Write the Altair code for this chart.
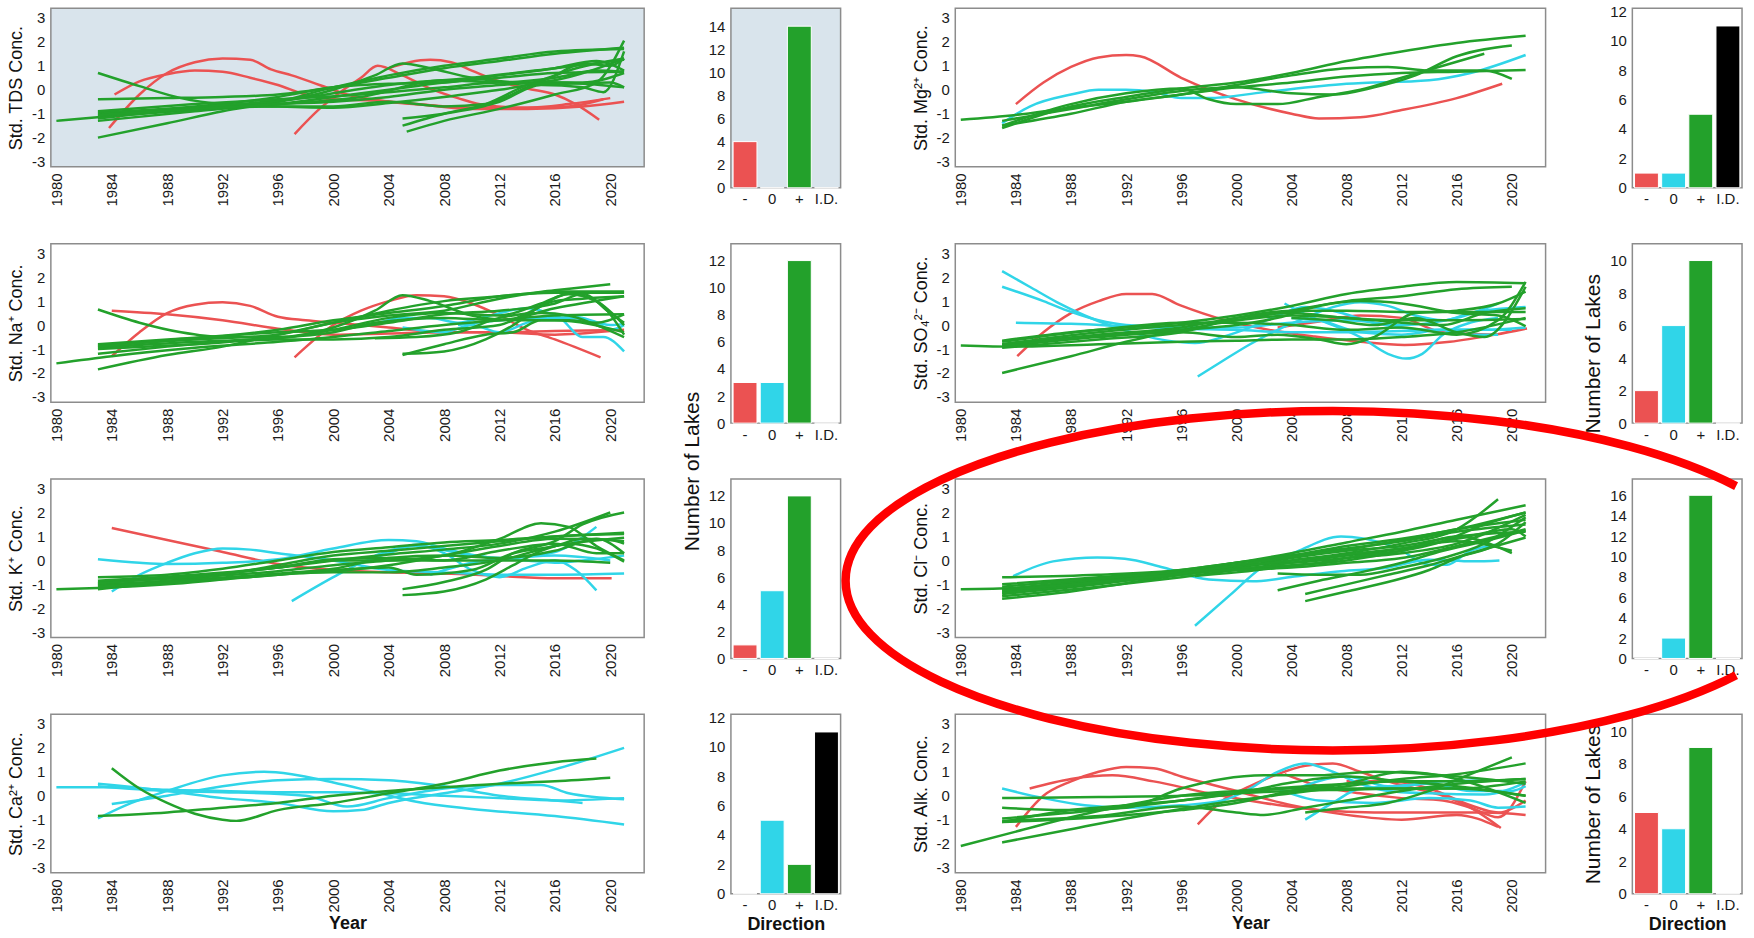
import math
import altair as alt
import pandas as pd

YEARS = list(range(1980, 2021, 4))
DIRS = ["-", "0", "+", "I.D."]
DIR_COLORS = ["#EB5252", "#30D5E8", "#23A12B", "#000000"]
X_DOM = [1979.6, 2022.45]
Y_DOM = [-3.22, 3.4]
Y_TICKS = [-3, -2, -1, 0, 1, 2, 3]

# ---------------- TDS ----------------
TDS_RED = [
    [(1983.8, -1.6), (1986, -0.2), (1988, 0.7), (1990, 1.15), (1992, 1.3), (1994, 1.25), (1995.5, 0.85), (1997, 0.6), (1999, 0.2), (2001, -0.2), (2004, -0.5), (2007, -0.65), (2010, -0.75), (2014, -0.75), (2017, -0.6), (2020, -0.35)],
    [(1984.2, -0.2), (1986, 0.35), (1988, 0.65), (1990, 0.8), (1992, 0.75), (1994, 0.5), (1996, 0.2), (1998, -0.2), (2000, -0.4), (2003, -0.45), (2006, -0.6), (2010, -0.8), (2014, -0.8), (2018, -0.7), (2021, -0.5)],
    [(1997.2, -1.85), (1999, -0.8), (2000.5, -0.1), (2002, 0.5), (2003.2, 1.0), (2005, 0.6), (2007, 0.05), (2009, -0.35), (2011, -0.65), (2014, -0.75), (2017, -0.7), (2019.5, -0.4)],
    [(2004, 0.9), (2005.5, 1.15), (2007, 1.25), (2008.5, 1.15), (2010, 0.8), (2012, 0.35), (2014, 0.05), (2016, -0.2), (2017.5, -0.6), (2019.2, -1.25)],
]
TDS_CYAN = []
TDS_GREEN = [
    [(1980, -1.3), (1984, -1.1), (1990, -0.85), (1996, -0.6), (2000, -0.3), (2004, 0.0), (2008, 0.3), (2012, 0.5), (2016, 0.7), (2021, 0.75)],
    [(1983, 0.7), (1986, 0.15), (1989, -0.35), (1992, -0.6), (1996, -0.7), (2000, -0.75), (2004, -0.55), (2008, -0.3), (2012, 0.0), (2016, 0.3), (2021, 0.1)],
    [(1983, -2.0), (1988, -1.4), (1992, -0.9), (1996, -0.5), (2000, 0.1), (2004, 0.6), (2008, 1.0), (2012, 1.3), (2016, 1.6), (2021, 1.7)],
    [(1983, -0.4), (1988, -0.35), (1992, -0.3), (1996, -0.2), (2000, 0.1), (2004, 0.5), (2008, 0.9), (2012, 1.2), (2016, 1.5), (2021, 1.75)],
    [(1983, -1.0), (1990, -0.75), (1996, -0.5), (2000, 0.0), (2003, 0.6), (2005, 1.1), (2007, 0.9), (2010, 0.5), (2014, 0.3), (2018, 0.3), (2021, 0.7)],
    [(1983, -1.3), (1990, -0.9), (1996, -0.6), (2000, -0.5), (2004, -0.3), (2008, 0.0), (2012, 0.2), (2016, 0.4), (2021, 1.3)],
    [(1983, -1.1), (1990, -0.8), (1996, -0.7), (2000, -0.7), (2004, -0.5), (2008, -0.7), (2011, -0.6), (2014, 0.1), (2017, 0.8), (2021, 1.3)],
    [(2005, -1.5), (2008, -1.0), (2011, -0.6), (2014, 0.2), (2016, 0.6), (2018, 1.1), (2020, 1.0), (2021, 1.3)],
    [(2005.3, -1.75), (2008, -1.3), (2012, -0.8), (2016, -0.2), (2019, 0.3), (2021, 2.05)],
    [(2005, -1.2), (2008, -1.0), (2012, -0.5), (2015, 0.2), (2018, 0.1), (2019.5, -0.1), (2021, 1.6)],
    [(1983, -0.95), (1990, -0.7), (1996, -0.3), (2000, 0.1), (2004, 0.25), (2008, 0.3), (2012, 0.6), (2016, 0.9), (2019, 1.2), (2021, 0.8)],
    [(1983, -1.2), (1990, -0.75), (1997, -0.4), (2004, 0.2), (2010, 0.5), (2016, 0.9), (2021, 1.25)],
    [(1983, -0.9), (1990, -0.6), (1996, -0.4), (2002, -0.2), (2008, 0.1), (2012, 0.3), (2016, 0.25), (2020, 0.3), (2021, 0.1)],
    [(1983, -1.05), (1990, -0.8), (1996, -0.6), (2002, -0.3), (2008, 0.4), (2012, 0.3), (2016, 0.5), (2019, 0.8), (2021, 0.75)],
]
TDS_COUNTS = [4, 0, 14, 0]

# ---------------- Mg ----------------
MG_RED = [
    [(1984, -0.6), (1986, 0.3), (1988, 0.95), (1990, 1.35), (1992, 1.45), (1993, 1.4), (1996, 0.5), (2000, -0.4), (2004, -1.0), (2006, -1.2), (2009, -1.15), (2012, -0.85), (2016, -0.35), (2019.3, 0.25)],
]
MG_CYAN = [
    [(1983, -1.4), (1985, -0.7), (1988, -0.2), (1990, 0.0), (1992, 0.0), (1994, -0.1), (1996, -0.35), (1998, -0.35), (2002, -0.1), (2008, 0.25), (2014, 0.4), (2017, 0.7), (2021, 1.45)],
]
MG_GREEN = [
    [(1980, -1.25), (1984, -1.05), (1988, -0.75), (1992, -0.5), (1996, -0.2), (2000, 0.1), (2004, 0.3), (2008, 0.55), (2012, 0.7), (2016, 0.75), (2021, 0.82)],
    [(1983, -1.6), (1988, -0.7), (1992, -0.3), (1996, 0.05), (2000, 0.3), (2004, 0.7), (2008, 1.2), (2012, 1.6), (2016, 1.95), (2021, 2.25)],
    [(1983, -1.5), (1988, -1.0), (1992, -0.5), (1996, -0.2), (2000, 0.2), (2004, 0.6), (2008, 0.9), (2011, 0.95), (2014, 0.8), (2018, 0.8), (2020, 0.45)],
    [(1983, -1.5), (1988, -0.6), (1992, -0.15), (1996, 0.05), (1998, -0.4), (2000, -0.6), (2003, -0.6), (2006, -0.3), (2009, 0.0), (2012, 0.5), (2015, 1.0), (2018, 1.5)],
    [(1983, -1.3), (1988, -0.8), (1992, -0.4), (1996, -0.05), (2000, 0.1), (2004, -0.15), (2007, -0.2), (2010, 0.1), (2013, 0.6), (2016, 1.4), (2020, 1.85)],
]
MG_COUNTS = [1, 1, 5, 11]

# ---------------- Na ----------------
NA_RED = [
    [(1984, 0.6), (1988, 0.45), (1992, 0.2), (1996, -0.15), (2000, -0.4), (2004, -0.35), (2008, -0.3), (2012, -0.3), (2016, -0.4), (2020, -0.25)],
    [(1984, -1.3), (1986, -0.3), (1988, 0.5), (1990, 0.85), (1992, 0.95), (1994, 0.8), (1996, 0.35), (1998, 0.2), (2000, 0.1), (2004, -0.1), (2008, -0.3), (2012, -0.3), (2016, -0.25), (2021, -0.2)],
    [(1997.2, -1.35), (2000, 0.0), (2002, 0.6), (2004, 1.0), (2006, 1.25), (2008, 1.2), (2010, 0.9), (2012, 0.4), (2014, -0.2), (2016, -0.6), (2019.3, -1.35)],
]
NA_CYAN = [
    [(2003, 0.05), (2005, 0.3), (2007, 0.3), (2009, 0.1), (2011, 0.35), (2014, 0.7), (2016, 0.45), (2018, 0.3), (2020, 0.0), (2021, 0.05)],
    [(2005, -0.1), (2008, -0.3), (2010, 0.0), (2012, -0.3), (2014, 0.1), (2016, 0.4), (2018, -0.5), (2019.5, -0.5), (2021, -1.1)],
    [(2009, 0.0), (2012, 0.2), (2015, 0.3), (2017, 0.3), (2019, 0.1), (2020, -0.2), (2021, 0.0)],
]
NA_GREEN = [
    [(1980, -1.6), (1984, -1.3), (1990, -0.95), (1996, -0.7), (2000, -0.5), (2004, -0.25), (2008, 0.0), (2012, 0.2), (2016, 0.4), (2021, 0.45)],
    [(1983, 0.65), (1986, 0.1), (1989, -0.3), (1992, -0.5), (1996, -0.5), (2000, -0.1), (2003, 0.6), (2005, 1.25), (2007, 1.0), (2010, 0.4), (2013, 0.2), (2016, 0.2), (2021, -0.3)],
    [(1983, -1.85), (1988, -1.25), (1992, -0.9), (1996, -0.4), (2000, 0.1), (2004, 0.6), (2008, 1.0), (2012, 1.2), (2016, 1.45), (2020, 1.7)],
    [(1983, -0.8), (1988, -0.6), (1992, -0.45), (1996, -0.2), (2000, 0.2), (2004, 0.5), (2008, 0.8), (2012, 1.2), (2016, 1.35), (2021, 1.35)],
    [(1983, -0.95), (1990, -0.7), (1996, -0.55), (2000, -0.2), (2004, 0.3), (2008, 0.5), (2012, 0.4), (2015, 0.9), (2017, 1.3), (2019, 1.0), (2021, 0.0)],
    [(1983, -1.0), (1990, -0.8), (1996, -0.6), (2000, -0.6), (2004, -0.5), (2008, -0.2), (2012, 0.0), (2014, 0.5), (2016, 1.0), (2018, 1.1), (2021, 1.2)],
    [(2005, -1.2), (2008, -1.1), (2011, -0.6), (2013, 0.0), (2015, 0.8), (2017, 1.3), (2019, 1.0), (2021, -0.4)],
    [(2005, -1.25), (2008, -0.8), (2011, -0.4), (2013, -0.3), (2015, 0.2), (2017, 0.2), (2019, 0.1), (2021, 0.45)],
    [(1983, -1.2), (1988, -0.9), (1994, -0.6), (2000, -0.3), (2003, 0.1), (2008, 0.3), (2012, 0.2), (2016, 0.7), (2021, 1.2)],
    [(1983, -0.85), (1990, -0.6), (1996, -0.4), (2000, 0.1), (2004, 0.4), (2008, 0.6), (2012, 1.1), (2016, 1.4), (2021, 1.4)],
    [(2003, -0.55), (2006, -0.5), (2009, -0.3), (2012, 0.3), (2015, 0.5), (2017, 0.4), (2019, 0.0), (2021, -0.5)],
    [(1983, -0.9), (1990, -0.55), (1996, -0.3), (2000, -0.2), (2004, 0.1), (2008, 0.45), (2012, 0.6), (2016, 0.9), (2018, 1.3), (2020, 0.5), (2021, 0.1)],
]
NA_COUNTS = [3, 3, 12, 0]

# ---------------- SO4 ----------------
SO4_RED = [
    [(1984.1, -1.3), (1986, -0.3), (1988, 0.5), (1990, 1.0), (1992, 1.3), (1993.9, 1.3), (1995.9, 0.83), (1999.2, 0.2), (2002.4, -0.2), (2005.7, -0.48), (2009, -0.7), (2012.2, -0.83), (2015.5, -0.7), (2018.8, -0.4), (2021.1, -0.14)],
    [(2003, -0.1), (2006, 0.15), (2009, 0.4), (2012, 0.3), (2015, -0.3), (2019, -0.4)],
]
SO4_CYAN = [
    [(1983, 2.25), (1985, 1.6), (1987, 0.95), (1989, 0.4), (1991, -0.05), (1993, -0.4), (1995, -0.65), (1997, -0.75), (1999, -0.5), (2001, -0.1), (2003, 0.4), (2005, 0.75), (2007, 0.6), (2010, 0.1), (2014, -0.2), (2018, -0.2), (2021, -0.1)],
    [(1983, 1.6), (1986, 1.0), (1988, 0.55), (1990, 0.2), (1992, 0.0), (1996, -0.1), (2000, -0.1), (2004, 0.1), (2008, 0.2), (2012, 0.0), (2016, 0.3), (2019, 0.9)],
    [(1984, 0.1), (1988, 0.05), (1992, -0.05), (1996, -0.15), (2000, -0.2), (2004, -0.3), (2008, -0.3), (2012, -0.25), (2016, -0.2), (2020, -0.2)],
    [(1997.2, -2.15), (1999, -1.5), (2001, -0.8), (2003, -0.2), (2005, 0.3), (2007, 0.75), (2009, 0.95), (2011, 0.8), (2013, 0.4), (2015, 0.2), (2017, 0.5), (2021, 0.75)],
    [(2003.5, 0.9), (2005, 0.45), (2007, 0.0), (2009, -0.5), (2011, -1.2), (2012.3, -1.4), (2013.5, -1.2), (2015, -0.4), (2017, 0.1), (2019, 0.3)],
    [(2004, 0.3), (2006, 0.2), (2009, -0.3), (2012, -0.4), (2015, -0.2), (2017, -0.4), (2019, -0.4)],
]
SO4_GREEN = [
    [(1980, -0.85), (1984, -0.9), (1990, -0.8), (1996, -0.7), (2000, -0.65), (2004, -0.6), (2008, -0.6), (2012, -0.5), (2016, -0.3), (2021, 0.3)],
    [(1983, -2.0), (1988, -1.3), (1992, -0.7), (1996, -0.2), (2000, 0.2), (2004, 0.6), (2008, 1.0), (2012, 1.2), (2016, 1.5), (2020, 1.6)],
    [(1983, -0.65), (1988, -0.3), (1992, -0.1), (1996, 0.1), (2000, 0.4), (2004, 0.8), (2008, 1.3), (2012, 1.6), (2016, 1.8), (2021, 1.75)],
    [(1983, -0.95), (1990, -0.6), (1996, -0.3), (2000, 0.3), (2004, 0.6), (2008, 0.6), (2012, 0.55), (2016, 0.55), (2021, 0.55)],
    [(1983, -0.8), (1990, -0.4), (1996, -0.1), (2000, 0.3), (2004, 0.5), (2008, 0.3), (2012, 0.2), (2016, 0.2), (2021, 0.25)],
    [(1983, -0.7), (1990, -0.2), (1996, 0.1), (2000, 0.1), (2004, 0.0), (2008, -0.2), (2012, -0.1), (2016, -0.4), (2019, 0.2), (2021, 1.8)],
    [(1983, -0.9), (1990, -0.5), (1996, -0.3), (2000, -0.5), (2003, -0.4), (2006, -0.6), (2008, -0.8), (2010, -0.5), (2013, 0.5), (2016, 0.6), (2019, 0.9), (2021, 1.4)],
    [(1983, -0.85), (1990, -0.45), (1996, -0.2), (2000, 0.0), (2003, 0.3), (2006, 0.8), (2009, 1.0), (2012, 0.9), (2016, 0.5), (2019, 0.4), (2021, -0.05)],
    [(2004, 0.3), (2007, 0.2), (2010, 0.0), (2013, 0.3), (2016, -0.3), (2018, -0.5), (2021, 1.6)],
    [(1983, -0.8), (1990, -0.3), (1996, 0.0), (2000, 0.2), (2004, 0.4), (2008, 0.3), (2012, 0.1), (2015, 0.0), (2018, 0.5), (2021, 0.7)],
]
SO4_COUNTS = [2, 6, 10, 0]

# ---------------- K ----------------
K_RED = [
    [(1984, 1.35), (1988, 0.85), (1992, 0.35), (1996, -0.15), (2000, -0.4), (2004, -0.5), (2008, -0.55), (2012, -0.65), (2016, -0.75), (2020.1, -0.75)],
]
K_CYAN = [
    [(1983, 0.05), (1986, -0.1), (1988, -0.15), (1992, -0.1), (1996, 0.05), (2000, 0.5), (2004, 0.85), (2006, 0.8), (2008, 0.5), (2012, 0.1), (2016, 0.2), (2020, 0.0)],
    [(1984, -1.3), (1986, -0.6), (1988, -0.1), (1990, 0.3), (1992, 0.5), (1994, 0.45), (1996, 0.3), (2000, 0.0), (2004, -0.4), (2008, -0.5), (2012, -0.6), (2016, -0.6), (2021, -0.55)],
    [(1997, -1.7), (2000, -0.7), (2002, -0.1), (2004, 0.3), (2006, 0.65), (2008, 0.3), (2010, -0.4), (2012, -0.7), (2014, -0.3), (2016, 0.0), (2017.5, -0.4), (2019, -1.25)],
    [(2007, -0.6), (2010, -0.1), (2013, 0.1), (2016, 0.35), (2019, 1.4)],
    [(2003, 0.2), (2006, 0.6), (2010, 0.2), (2014, 0.0), (2016, -0.1), (2018, 0.0), (2021, 0.2)],
]
K_GREEN = [
    [(1980, -1.2), (1983, -1.15), (1988, -1.0), (1992, -0.8), (1996, -0.6), (2000, -0.5), (2004, -0.5), (2008, -0.3), (2012, 0.0), (2016, 0.6), (2021, 0.95)],
    [(1983, -0.7), (1988, -0.6), (1992, -0.35), (1996, 0.0), (2000, 0.35), (2004, 0.55), (2008, 0.75), (2012, 0.85), (2016, 1.0), (2021, 1.15)],
    [(1983, -1.2), (1988, -0.9), (1992, -0.6), (1996, -0.2), (2000, 0.2), (2004, 0.4), (2008, 0.6), (2012, 0.8), (2016, 1.0), (2021, 1.1)],
    [(1983, -1.0), (1988, -0.85), (1992, -0.55), (1996, -0.3), (2000, 0.0), (2004, 0.25), (2008, 0.45), (2012, 0.7), (2016, 1.2), (2020, 2.0)],
    [(1983, -0.9), (1990, -0.7), (1996, -0.45), (2000, -0.2), (2004, 0.0), (2008, 0.2), (2012, 0.9), (2015, 1.55), (2017, 1.4), (2019, 0.6), (2021, 0.0)],
    [(2005, -1.2), (2008, -0.9), (2011, -0.4), (2013, 0.3), (2016, 0.8), (2018, 1.5), (2021, 2.0)],
    [(2005, -1.45), (2008, -1.3), (2011, -0.8), (2013, -0.2), (2015, 0.4), (2017, 0.7), (2019, 0.5), (2021, -0.05)],
    [(1983, -1.05), (1990, -0.8), (1996, -0.55), (2000, -0.4), (2004, -0.3), (2006, -0.6), (2010, -0.4), (2013, 0.3), (2016, 0.6), (2018, 0.9), (2021, 0.8)],
    [(1983, -0.95), (1990, -0.65), (1996, -0.3), (2000, 0.05), (2004, 0.1), (2008, 0.0), (2012, 0.4), (2016, 0.7), (2019, 0.3), (2021, 0.3)],
    [(1997, -0.5), (2000, -0.45), (2004, -0.2), (2008, 0.2), (2012, 0.6), (2016, 0.9), (2020, 0.85), (2021, 0.7)],
    [(1983, -1.1), (1990, -0.85), (1996, -0.6), (2000, -0.35), (2004, 0.1), (2008, 0.2), (2012, 0.1), (2016, 0.4), (2019, 0.9), (2021, 0.3)],
    [(1983, -0.85), (1990, -0.6), (1996, -0.3), (2000, 0.0), (2004, 0.0), (2008, 0.0), (2012, 0.0), (2016, 0.0), (2020, -0.1)],
]
K_COUNTS = [1, 5, 12, 0]

# ---------------- Cl ----------------
CL_RED = []
CL_CYAN = [
    [(1983.8, -0.66), (1986.7, -0.04), (1989.9, 0.12), (1991.9, 0.07), (1994.7, -0.3), (1998, -0.8), (2001.2, -0.87), (2004.4, -0.66), (2007.6, -0.45), (2010.8, -0.32), (2014, 0.03), (2017.2, -0.04), (2019.1, 0.0)],
    [(1997, -2.73), (1999.6, -1.42), (2001.8, -0.32), (2004.4, 0.37), (2007.6, 1.0), (2009.2, 0.92), (2011.7, 0.5), (2014, -0.18), (2015.3, -0.18), (2016.9, 0.37), (2018.8, 0.65)],
]
CL_GREEN = [
    [(1980, -1.2), (1984, -1.15), (1990, -0.85), (1996, -0.45), (2000, -0.1), (2004, 0.3), (2008, 0.75), (2012, 1.2), (2016, 1.7), (2021, 2.3)],
    [(1983, -0.7), (1990, -0.6), (1996, -0.4), (2000, -0.1), (2004, 0.2), (2008, 0.6), (2012, 0.9), (2016, 1.3), (2021, 2.0)],
    [(1983, -1.6), (1988, -1.3), (1992, -0.95), (1996, -0.6), (2000, -0.3), (2004, 0.0), (2008, 0.3), (2012, 0.7), (2016, 1.3), (2019, 2.55)],
    [(1983, -1.4), (1990, -1.0), (1996, -0.55), (2000, -0.3), (2004, 0.1), (2008, 0.4), (2012, 0.6), (2016, 1.0), (2021, 1.2)],
    [(1983, -1.2), (1990, -0.8), (1996, -0.4), (2000, -0.1), (2004, 0.2), (2008, 0.5), (2012, 0.8), (2016, 1.2), (2021, 1.5)],
    [(1983, -1.3), (1990, -0.9), (1996, -0.5), (2000, -0.2), (2004, -0.1), (2008, 0.1), (2012, 0.3), (2016, 0.7), (2021, 1.9)],
    [(1983, -1.5), (1990, -1.1), (1996, -0.7), (2000, -0.4), (2004, -0.1), (2008, 0.2), (2012, 0.5), (2016, 0.9), (2020, 1.3), (2021, 1.0)],
    [(1983, -1.0), (1990, -0.7), (1996, -0.45), (2000, -0.25), (2004, 0.0), (2008, 0.25), (2012, 0.5), (2016, 0.8), (2020, 0.4)],
    [(2003, -1.25), (2006, -0.85), (2009, -0.5), (2012, -0.1), (2015, 0.4), (2018, 0.8), (2021, 1.25)],
    [(2005, -1.4), (2008, -1.0), (2011, -0.6), (2014, -0.2), (2017, 0.3), (2021, 0.95)],
    [(2005, -1.7), (2008, -1.3), (2011, -0.9), (2014, -0.4), (2016, 0.1), (2019, 0.7), (2021, 1.6)],
    [(1983, -1.35), (1990, -0.95), (1996, -0.6), (2000, -0.35), (2004, -0.2), (2008, 0.0), (2012, 0.4), (2016, 1.0), (2020, 0.3)],
    [(1997, -0.65), (2000, -0.5), (2003, -0.3), (2006, -0.1), (2009, 0.2), (2012, 0.4), (2015, 0.8), (2018, 1.5), (2021, 2.0)],
    [(1983, -1.1), (1990, -0.75), (1996, -0.5), (2000, -0.4), (2004, -0.3), (2008, -0.1), (2012, 0.1), (2016, 0.6), (2021, 1.3)],
    [(2003, -0.55), (2006, -0.6), (2009, -0.6), (2012, -0.3), (2015, 0.1), (2018, 0.7), (2021, 1.8)],
    [(1983, -1.25), (1990, -0.9), (1996, -0.55), (2000, -0.2), (2004, 0.15), (2008, 0.45), (2012, 0.85), (2016, 1.3), (2021, 1.7)],
]
CL_COUNTS = [0, 2, 16, 0]

# ---------------- Ca ----------------
CA_RED = []
CA_CYAN = [
    [(1980, 0.35), (1984, 0.35), (1988, 0.25), (1992, 0.2), (1996, 0.15), (2000, 0.15), (2004, 0.1), (2008, 0.0), (2012, -0.1), (2016, -0.2), (2021, -0.1)],
    [(1983, 0.5), (1988, 0.2), (1992, -0.1), (1996, -0.3), (2000, -0.65), (2002, -0.6), (2004, -0.3), (2008, 0.1), (2012, 0.5), (2016, 1.1), (2021, 2.0)],
    [(1983, -0.95), (1985, -0.4), (1988, 0.2), (1992, 0.85), (1995, 1.0), (1997, 0.9), (2000, 0.55), (2003, 0.15), (2006, -0.25), (2010, -0.55), (2016, -0.85), (2021, -1.2)],
    [(1984, -0.35), (1988, 0.0), (1992, 0.4), (1996, 0.65), (2000, 0.7), (2004, 0.65), (2008, 0.4), (2012, 0.0), (2016, -0.2), (2018, -0.3)],
    [(1983, 0.4), (1988, 0.2), (1992, 0.15), (1998, 0.0), (2001, -0.45), (2004, -0.1), (2008, 0.3), (2012, 0.45), (2015, 0.45), (2017, 0.1), (2021, -0.15)],
]
CA_GREEN = [
    [(1983, -0.85), (1988, -0.7), (1992, -0.5), (1996, -0.3), (2000, 0.0), (2004, 0.2), (2008, 0.35), (2012, 0.5), (2016, 0.6), (2020, 0.75)],
    [(1984, 1.15), (1986, 0.3), (1988, -0.3), (1990, -0.75), (1992, -1.0), (1993, -1.05), (1996, -0.6), (2000, -0.3), (2004, 0.1), (2008, 0.5), (2012, 1.05), (2016, 1.4), (2019, 1.55)],
]
CA_COUNTS = [0, 5, 2, 11]

# ---------------- Alk ----------------
ALK_RED = [
    [(1984, -1.3), (1986, 0.0), (1988, 0.6), (1990, 1.0), (1992, 1.2), (1994, 1.15), (1996, 0.8), (2000, 0.2), (2004, -0.4), (2008, -0.8), (2012, -1.0), (2016, -0.8), (2019, -1.3)],
    [(1985, 0.3), (1988, 0.7), (1991, 0.85), (1994, 0.6), (1998, 0.1), (2002, -0.3), (2006, -0.6), (2010, -0.7), (2014, -0.7), (2018, -0.7), (2021, -0.8)],
    [(1997.2, -1.2), (1999, -0.2), (2001, 0.4), (2003, 0.9), (2005, 1.25), (2007, 1.35), (2009, 1.0), (2011, 0.6), (2013, 0.3), (2015, 0.0), (2017, -0.5), (2019.2, -1.35)],
    [(2003.5, 0.9), (2006, 0.4), (2009, 0.1), (2012, -0.1), (2015, -0.2), (2017, -0.5), (2019, -0.9), (2021, 0.6)],
    [(2008, 0.6), (2011, 0.6), (2014, 0.3), (2017, -0.4), (2019, -0.7), (2021, -0.2)],
]
ALK_CYAN = [
    [(1983, 0.3), (1986, -0.1), (1989, -0.4), (1992, -0.5), (1996, -0.4), (1999, -0.2), (2001, 0.3), (2003, 1.0), (2005, 1.35), (2007, 1.0), (2009, 0.5), (2011, 0.2), (2014, 0.1), (2018, 0.05), (2021, 0.55)],
    [(2005, -1.0), (2007, -0.3), (2009, 0.3), (2012, 0.4), (2015, 0.6), (2019, 0.65)],
    [(2003, 0.3), (2006, -0.2), (2010, -0.3), (2014, -0.1), (2017, -0.2), (2019, -0.5), (2021, -0.45)],
    [(2004, 0.2), (2008, 0.8), (2011, 0.4), (2014, 0.5), (2017, 0.2), (2020, 0.2), (2021, 0.4)],
]
ALK_GREEN = [
    [(1980, -2.1), (1984, -1.5), (1988, -0.9), (1992, -0.4), (1996, 0.0), (2000, 0.2), (2004, 0.35), (2008, 0.5), (2012, 0.6), (2016, 0.6), (2021, 0.7)],
    [(1983, -1.95), (1988, -1.4), (1992, -0.95), (1996, -0.55), (2000, -0.2), (2004, 0.1), (2008, 0.4), (2012, 0.7), (2016, 0.9), (2021, 1.35)],
    [(1983, -0.1), (1990, -0.05), (1996, 0.0), (2000, 0.1), (2004, 0.2), (2008, 0.25), (2012, 0.3), (2016, 0.3), (2021, 0.0)],
    [(1983, -0.5), (1988, -0.6), (1992, -0.5), (1996, 0.3), (1999, 0.7), (2002, 0.85), (2006, 0.85), (2010, 1.0), (2014, 0.9), (2018, 0.7), (2021, 0.5)],
    [(1983, -1.05), (1990, -0.85), (1996, -0.45), (2000, -0.7), (2002, -0.8), (2005, -0.5), (2008, -0.2), (2012, 0.2), (2016, 0.5), (2021, 0.7)],
    [(1983, -1.1), (1988, -0.6), (1992, -0.4), (1996, -0.2), (2000, 0.1), (2004, 0.55), (2008, 0.8), (2012, 0.6), (2016, 0.4), (2021, 0.0)],
    [(2005, -0.7), (2008, -0.5), (2011, -0.3), (2014, 0.2), (2017, 0.9), (2020, 1.6)],
    [(1983, -1.1), (1990, -0.9), (1996, -0.6), (2000, -0.3), (2004, 0.2), (2008, 0.5), (2012, 1.0), (2016, 0.7), (2021, -0.3)],
    [(1983, -0.95), (1990, -0.6), (1996, -0.2), (2000, 0.1), (2004, 0.3), (2008, 0.3), (2012, 0.3), (2016, 0.3), (2021, 0.6)],
]
ALK_COUNTS = [5, 4, 9, 0]

# ---------------- layout constants ----------------
LINE_W1, LINE_W2, LINE_H = 595, 592, 159
BAR_W, BAR_H = 110, 180
BAR1_EXTRA = 28
TDS_BG = "#D9E4EC"
FRAME = "#8C8C8C"
FONT = "Liberation Sans"

# red annotation ellipse, drawn as an open arc cut at the right page edge
# (positions relative to the Alk bar panel's top-left corner)
ELL_RX, ELL_RY = 488, 170
ELL_CX, ELL_CY = -301, -134
ELL_CUT = 0.83          # fraction of rx where the arc leaves the page on the right


def ellipse_arc_path(cut, b, nseg=4):
    t0 = math.acos(cut)
    t1 = 2 * math.pi - t0
    phi = (t1 - t0) / nseg
    k = 4.0 / 3.0 * math.tan(phi / 4.0)

    def pt(t):
        return math.cos(t), -b * math.sin(t)

    def d(t):
        return -math.sin(t), -b * math.cos(t)

    x0, y0 = pt(t0)
    parts = [f"M {x0:.4f} {y0:.4f}"]
    for i in range(nseg):
        ta, tb = t0 + i * phi, t0 + (i + 1) * phi
        pa, pb = pt(ta), pt(tb)
        da, db = d(ta), d(tb)
        c1 = (pa[0] + k * da[0], pa[1] + k * da[1])
        c2 = (pb[0] - k * db[0], pb[1] - k * db[1])
        parts.append(f"C {c1[0]:.4f} {c1[1]:.4f} {c2[0]:.4f} {c2[1]:.4f} {pb[0]:.4f} {pb[1]:.4f}")
    return " ".join(parts)


ELLIPSE_PATH = ellipse_arc_path(ELL_CUT, ELL_RY / ELL_RX)


def line_df(red, cyan, green):
    rows = []
    for d, group in (("-", red), ("0", cyan), ("+", green)):
        for i, pts in enumerate(group):
            for yr, v in pts:
                rows.append({"lake": f"{d}{i}", "dir": d, "year": yr, "value": v})
    return pd.DataFrame(rows)


COLOR = alt.Color("dir:N", scale=alt.Scale(domain=DIRS, range=DIR_COLORS), legend=None)


def line_panel(red, cyan, green, ytitle, width, bottom=False, bg=None):
    xkw = dict(values=YEARS, format="d", labelAngle=-90, labelPadding=6)
    if bottom:
        xkw.update(title="Year", titleFontSize=18, titleFontWeight="bold", titlePadding=2)
    else:
        xkw.update(title=None)
    ch = alt.Chart(line_df(red, cyan, green)).mark_line(
        strokeWidth=2.5, interpolate="monotone", clip=True
    ).encode(
        x=alt.X("year:Q", scale=alt.Scale(domain=X_DOM, nice=False, zero=False), axis=alt.Axis(**xkw)),
        y=alt.Y("value:Q", scale=alt.Scale(domain=Y_DOM, nice=False, zero=False),
                axis=alt.Axis(values=Y_TICKS, labelExpr="datum.value + ''", title=ytitle,
                              titleFontSize=18, titleFontWeight="normal", titlePadding=6,
                              labelPadding=6)),
        color=COLOR,
        detail="lake:N",
    ).properties(width=width, height=LINE_H)
    if bg:
        ch = ch.properties(view=alt.ViewBackground(fill=bg, stroke=FRAME, strokeWidth=1.5))
    return ch


def bar_panel(counts, ymax, ystep, col1, ytitle=None, title_y=None, bottom=False, bg=None, ellipse=False):
    df = pd.DataFrame({"dir": DIRS, "n": counts})
    sc = dict(domain=DIRS, paddingInner=0.12, paddingOuter=0.08)
    if col1:
        sc["range"] = [0, BAR_W]
    xkw = dict(labelAngle=0, labelPadding=4)
    if bottom:
        xkw.update(title="Direction", titleFontSize=18, titleFontWeight="bold", titlePadding=3)
    else:
        xkw.update(title=None)
    ykw = dict(values=list(range(0, int(ymax) + 1, ystep)), labelPadding=6)
    if ytitle:
        ykw.update(title=ytitle, titleFontSize=21, titleFontWeight="normal", titlePadding=6)
        if title_y is not None:
            ykw["titleY"] = title_y
    else:
        ykw["title"] = None
    frame_df = pd.DataFrame({"k": [0]})
    frame = alt.Chart(frame_df).mark_rect(
        fill=bg if bg else "#FFFFFF", fillOpacity=1 if bg else 0, stroke=FRAME, strokeWidth=1.5
    ).encode(x=alt.value(0), x2=alt.value(BAR_W), y=alt.value(0), y2=alt.value(BAR_H))
    bars = alt.Chart(df).mark_bar(stroke="white", strokeWidth=1).encode(
        x=alt.X("dir:N", sort=DIRS, scale=alt.Scale(**sc), axis=alt.Axis(**xkw)),
        y=alt.Y("n:Q", scale=alt.Scale(domain=[0, ymax], nice=False), axis=alt.Axis(**ykw)),
        color=COLOR,
    )
    layers = [frame, bars]
    if ellipse:
        layers.append(
            alt.Chart(frame_df).mark_point(
                shape=ELLIPSE_PATH, size=(2 * ELL_RX) ** 2, filled=False, color="#FF0000",
                strokeWidth=8.5, opacity=1
            ).encode(x=alt.value(ELL_CX), y=alt.value(ELL_CY))
        )
    w = BAR_W + BAR1_EXTRA if col1 else BAR_W
    return alt.layer(*layers).properties(
        width=w, height=BAR_H, view=alt.ViewBackground(strokeOpacity=0)
    )


panels = [
    line_panel(TDS_RED, TDS_CYAN, TDS_GREEN, "Std. TDS Conc.", LINE_W1, bg=TDS_BG),
    bar_panel(TDS_COUNTS, 15.55, 2, True, bg=TDS_BG),
    line_panel(MG_RED, MG_CYAN, MG_GREEN, "Std. Mg²⁺ Conc.", LINE_W2),
    bar_panel(MG_COUNTS, 12.2, 2, False),
    line_panel(NA_RED, NA_CYAN, NA_GREEN, "Std. Na⁺ Conc.", LINE_W1),
    bar_panel(NA_COUNTS, 13.25, 2, True),
    line_panel(SO4_RED, SO4_CYAN, SO4_GREEN, "Std. SO₄²⁻ Conc.", LINE_W2),
    bar_panel(SO4_COUNTS, 11.04, 2, False, ytitle="Number of Lakes", title_y=110),
    line_panel(K_RED, K_CYAN, K_GREEN, "Std. K⁺ Conc.", LINE_W1),
    bar_panel(K_COUNTS, 13.25, 2, True, ytitle="Number of Lakes", title_y=-8),
    line_panel(CL_RED, CL_CYAN, CL_GREEN, "Std. Cl⁻ Conc.", LINE_W2),
    bar_panel(CL_COUNTS, 17.6, 2, False),
    line_panel(CA_RED, CA_CYAN, CA_GREEN, "Std. Ca²⁺ Conc.", LINE_W1, bottom=True),
    bar_panel(CA_COUNTS, 12.2, 2, True, bottom=True),
    line_panel(ALK_RED, ALK_CYAN, ALK_GREEN, "Std. Alk. Conc.", LINE_W2, bottom=True),
    bar_panel(ALK_COUNTS, 11.04, 2, False, ytitle="Number of Lakes", bottom=True, ellipse=True),
]

chart = alt.concat(
    *panels, columns=4, spacing={"row": 56, "column": 87}, bounds="flush"
).properties(
    padding={"left": 6, "top": 2, "right": 0, "bottom": 0}
).configure(
    font=FONT
).configure_view(
    stroke=FRAME, strokeWidth=1.5
).configure_axis(
    labelFont=FONT, titleFont=FONT, labelFontSize=15, labelColor="#1A1A1A",
    titleColor="#111111", ticks=False, domain=False, grid=False
)

chart.save("out.html", embed_options={"renderer": "svg", "actions": False})
